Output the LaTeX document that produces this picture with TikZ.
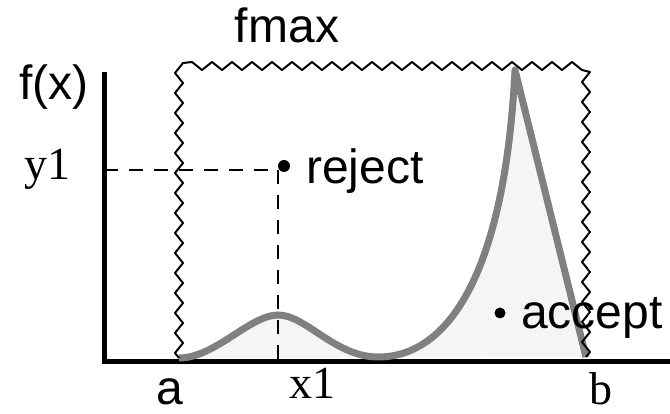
\documentclass[tikz,border=0pt]{standalone}
\usepackage{fontspec}
\setmainfont{Liberation Serif}
\setsansfont{Liberation Sans}
\usetikzlibrary{decorations.pathmorphing}

\definecolor{curvegray}{HTML}{808080}
\definecolor{areagray}{HTML}{F5F5F5}

\tikzset{
  axis/.style={line width=5pt},
  envelope/.style={decorate, line width=2pt, line join=round,
    decoration={zigzag, segment length=20pt, amplitude=4pt}},
  density/.style={draw=curvegray, line width=7pt, line join=round},
  guide/.style={line width=2pt, dash pattern=on 14pt off 11pt},
  lbl/.style={inner sep=0pt, anchor=base, font=\sffamily\fontsize{48}{52}\selectfont},
  rml/.style={inner sep=0pt, anchor=base, font=\rmfamily\fontsize{46}{50}\selectfont}
}

\begin{document}
\begin{tikzpicture}[x=1pt, y=-1pt, line cap=butt]
  \useasboundingbox (0,0) rectangle (670,414);

  % Axis corner points
  \coordinate (top) at (104, 72);
  \coordinate (end) at (670, 362);

  % Curve points: a, bump, valley, peak, b
  \coordinate (a)    at (179, 358);
  \coordinate (bump) at (278, 315);
  \coordinate (dip)  at (378, 357);
  \coordinate (peak) at (515, 70);
  \coordinate (b)    at (586, 357);

  % Envelope corners (fmax)
  \coordinate (ftl) at (179, 66);
  \coordinate (ftr) at (586, 66);

  % Sample point
  \coordinate (hit) at (278, 170);
  \coordinate (yax) at (104, 170);
  \coordinate (xax) at (278, 362);

  % Axes
  \draw[axis] (top) |- (end);

  % Area under f(x)
  \fill[areagray] (a) .. controls (215,358) and (250,315) .. (bump)
    .. controls (306,315) and (335,357) .. (dip)
    .. controls (450,357) and (505,270) .. (peak) -- (b) -- cycle;
  \draw[density] (a) .. controls (215,358) and (250,315) .. (bump)
    .. controls (306,315) and (335,357) .. (dip)
    .. controls (450,357) and (505,270) .. (peak) -- (b);

  % Zigzag box at height fmax
  \draw[envelope] (a) -- (ftl) -- (ftr) -- (b);

  % Dashed guides to y1 and x1
  \draw[guide] (yax) -- (hit);
  \draw[guide] (hit) -- (xax);

  % Sample dots
  \fill (284, 166) circle (6pt) coordinate (rej);
  \fill (500, 313) circle (5.5pt) coordinate (acc);

  % Labels
  \node[lbl] (fmax) at (287, 43) {fmax};
  \node[lbl] (fx) at (54, 100) {f(x)};
  \node[rml] (y1) at (47, 180) {y1};
  \node[lbl, anchor=base west] (reject) at (306, 184) {reject};
  \node[lbl, anchor=base west] (accept) at (521, 329) {accept};
  \node[lbl] (la) at (170, 404) {a};
  \node[rml] (x1) at (312, 398) {x1};
  \node[rml] (lb) at (601, 404) {b};
\end{tikzpicture}
\end{document}
